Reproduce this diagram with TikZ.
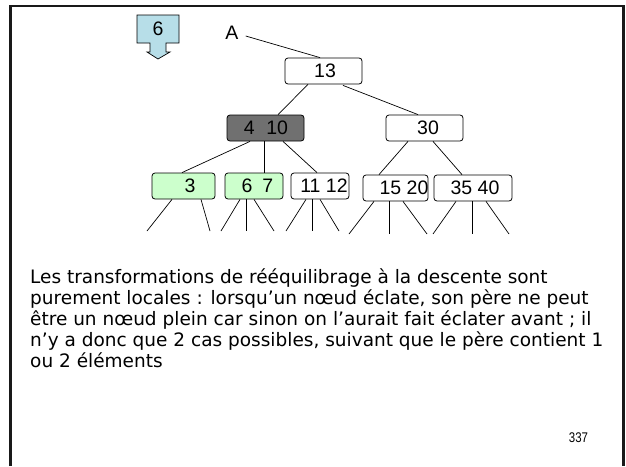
\documentclass[tikz,border=0pt]{standalone}
\usepackage{fontspec}
\setmainfont{Liberation Sans}
\newfontfamily\bodyfont{DejaVu Sans}
\newfontfamily\numfont[FakeStretch=0.82]{Liberation Sans}
\usetikzlibrary{calc}
\definecolor{callblue}{RGB}{183,222,232}
\definecolor{splitgray}{RGB}{112,112,112}
\definecolor{leafgreen}{RGB}{204,255,204}
\tikzset{
  keybox/.style={draw=black, line width=0.8pt, rounded corners=3pt,
    minimum height=26pt, inner sep=0pt, fill=white},
  keytext/.style={font=\fontsize{19.5}{20}\selectfont, inner sep=0pt},
  edge/.style={line width=0.7pt},
  frame/.style={line width=2.4pt, black!90},
}
\begin{document}
\begin{tikzpicture}[x=1pt, y=-1pt]
\useasboundingbox (0,0) rectangle (626,466);
\fill[white] (0,0) rectangle (626,466);

% slide frame
\draw[frame] (10.5,466) -- (10.5,6) -- (623.5,6) -- (623.5,466);

% key being inserted, with its downward arrow
\draw[line width=0.7pt, fill=callblue]
  (137,15) -- (179,15) -- (179,43) -- (166,43) -- (166,52) -- (170,52)
  -- (158,59) -- (147,52) -- (150,52) -- (150,43) -- (137,43) -- cycle;
\node[keytext] (ins) at (158,29) {6};

% root pointer
\node[keytext] (A) at (232,33) {A};

% tree nodes
\node[keybox, minimum width=77pt] (n13) at (323.5,71) {};
\node[keybox, minimum width=77pt, fill=splitgray] (n410) at (265.5,128) {};
\node[keybox, minimum width=77pt] (n30) at (424.5,128) {};
\node[keybox, minimum width=63pt, fill=leafgreen] (n3) at (183.5,186) {};
\node[keybox, minimum width=58pt, fill=leafgreen] (n67) at (254,186) {};
\node[keybox, minimum width=58pt] (n1112) at (320,186) {};
\node[keybox, minimum width=65pt] (n1520) at (395.5,188) {};
\node[keybox, minimum width=78pt] (n3540) at (473,188) {};

% keys
\node[keytext, xshift=1.5pt] (t13) at (n13.center) {13};
\node[keytext, xshift=0.5pt] (t410) at (n410.center) {4\hspace{11.5pt}10};
\node[keytext, xshift=3.5pt] (t30) at (n30.center) {30};
\node[keytext, xshift=6.5pt] (t3) at (n3.center) {3};
\node[keytext, xshift=3.5pt] (t67) at (n67.center) {6\hspace{10pt}7};
\node[keytext, xshift=4pt] (t1112) at (n1112.center) {11 12};
\node[keytext, xshift=8.5pt] (t1520) at (n1520.center) {15 20};
\node[keytext, xshift=2pt] (t3540) at (n3540.center) {35 40};

% edges between nodes
\draw[edge] ($(A.east)+(7,3)$) -- ($(n13.north)+(-3.5,0)$);
\draw[edge] ($(n13.south)+(-15.5,0)$) -- ($(n410.north)+(12.5,0)$);
\draw[edge] ($(n13.south)+(19.5,1)$) -- ($(n30.north)+(-6.5,0)$);
\draw[edge] ($(n410.south)+(-15.5,0)$) -- ($(n3.north)+(-1.5,0)$);
\draw[edge] ($(n410.south)+(-1.5,0)$) -- ($(n67.north)+(10,0)$);
\draw[edge] ($(n410.south)+(17.5,0)$) -- ($(n1112.north)+(-3,0)$);
\draw[edge] ($(n30.south)+(-16.5,0)$) -- ($(n1520.north)+(-16.5,0)$);
\draw[edge] ($(n30.south)+(8.5,0)$) -- ($(n3540.north)+(-11,0)$);

% subtrees below the leaves
\coordinate (l3a) at (147,231);  \coordinate (l3b) at (210,231);
\coordinate (l67a) at (221,231); \coordinate (l67b) at (246,231); \coordinate (l67c) at (274,231);
\coordinate (l11a) at (286,231); \coordinate (l11b) at (312,231); \coordinate (l11c) at (339,231);
\coordinate (l15a) at (349,234); \coordinate (l15b) at (389,234); \coordinate (l15c) at (427,234);
\coordinate (l35a) at (433,234); \coordinate (l35b) at (472,234); \coordinate (l35c) at (509,234);

\draw[edge] ($(n3.south)+(-11.5,0)$) -- (l3a);
\draw[edge] ($(n3.south)+(17.5,0)$) -- (l3b);
\draw[edge] ($(n67.south)+(-14,0)$) -- (l67a);
\draw[edge] ($(n67.south)+(-8,0)$) -- (l67b);
\draw[edge] ($(n67.south)+(0,0)$) -- (l67c);
\draw[edge] ($(n1112.south)+(-14,0)$) -- (l11a);
\draw[edge] ($(n1112.south)+(-8,0)$) -- (l11b);
\draw[edge] ($(n1112.south)+(0,0)$) -- (l11c);
\draw[edge] ($(n1520.south)+(-21.5,0)$) -- (l15a);
\draw[edge] ($(n1520.south)+(-6.5,0)$) -- (l15b);
\draw[edge] ($(n1520.south)+(7.5,0)$) -- (l15c);
\draw[edge] ($(n3540.south)+(-17,0)$) -- (l35a);
\draw[edge] ($(n3540.south)+(-1,0)$) -- (l35b);
\draw[edge] ($(n3540.south)+(13,0)$) -- (l35c);

% explanation (base anchor sits on the last line)
\node[anchor=base west, inner sep=0pt, align=left,
      font=\bodyfont\fontsize{18.5}{21}\selectfont] (txt) at (30,367)
  {Les transformations de rééquilibrage à la descente sont\\
   purement locales : lorsqu’un nœud éclate, son père ne peut\\
   être un nœud plein car sinon on l’aurait fait éclater avant ; il\\
   n’y a donc que 2 cas possibles, suivant que le père contient 1\\
   ou 2 éléments};

% page number
\node[font=\numfont\fontsize{14}{14}\selectfont, inner sep=0pt] (page) at (578.5,438) {337};
\end{tikzpicture}
\end{document}
